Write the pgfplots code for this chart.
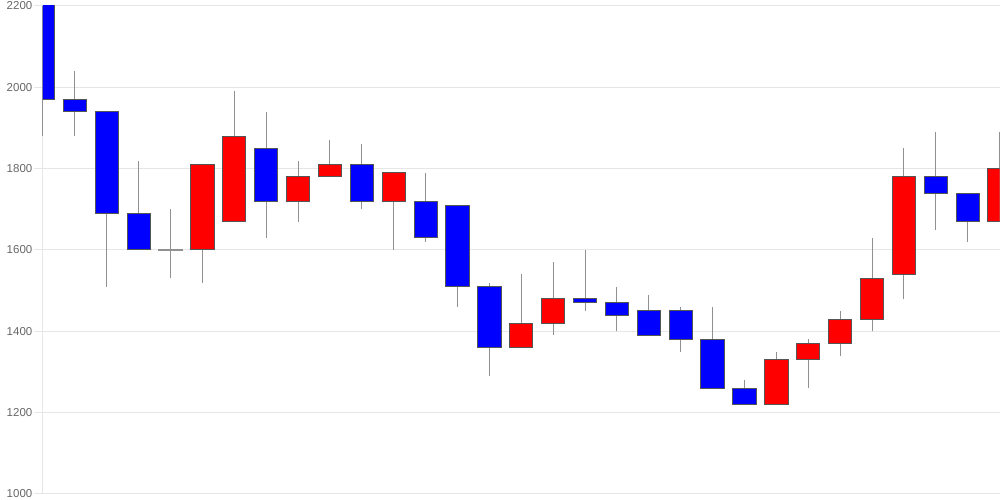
\documentclass[border=0pt]{standalone}
\usepackage{fontspec}
\setmainfont{Liberation Sans}
\usepackage{pgfplots}
\pgfplotsset{compat=1.18}
\usepackage{pgfplotstable}

\definecolor{gridc}{HTML}{E6E6E6}
\definecolor{tickc}{HTML}{666666}
\definecolor{wickc}{HTML}{909090}
\definecolor{edgec}{HTML}{555555}

% wicks: x low high
\pgfplotstableread{
x low high
0 1880 2200
1 1880 2040
2 1510 1940
3 1600 1820
4 1530 1700
5 1520 1810
6 1670 1990
7 1630 1940
8 1670 1820
9 1780 1870
10 1700 1860
11 1600 1790
12 1620 1790
13 1460 1710
14 1290 1520
15 1360 1540
16 1390 1570
17 1450 1600
18 1400 1510
19 1390 1490
20 1350 1460
21 1260 1460
22 1220 1280
23 1220 1350
24 1260 1380
25 1340 1450
26 1400 1630
27 1480 1850
28 1650 1890
29 1620 1740
30 1670 1890
}\wickT

% falling candles: x top bottom
\pgfplotstableread{
x top bottom
0 2280 1970
1 1970 1940
2 1940 1690
3 1690 1600
7 1850 1720
10 1810 1720
12 1720 1630
13 1710 1510
14 1510 1360
17 1480 1470
18 1470 1440
19 1450 1390
20 1450 1380
21 1380 1260
22 1260 1220
28 1780 1740
29 1740 1670
}\blueT

% rising candles: x bottom top
\pgfplotstableread{
x bottom top
5 1600 1810
6 1670 1880
8 1720 1780
9 1780 1810
11 1720 1790
15 1360 1420
16 1420 1480
23 1220 1330
24 1330 1370
25 1370 1430
26 1430 1530
27 1540 1780
30 1670 1800
}\redT

% unchanged candle (open = close): x bottom top
\pgfplotstableread{
x bottom top
4 1599.5 1600.5
}\dojiT

\pgfplotsset{
  basegeom/.style={
    scale only axis, width=956.6pt, height=488pt,
    xmin=0, xmax=30, ymin=1000, ymax=2200,
    enlargelimits=false,
  },
}

\begin{document}
\begin{tikzpicture}
\begin{axis}[
  basegeom, clip=false,
  axis x line=none,
  axis y line=left,
  axis line style={draw=gridc, line width=1pt, -},
  xtick=\empty,
  ytick={1000,1200,1400,1600,1800,2000,2200},
  ymajorgrids,
  grid style={draw=gridc, line width=1pt},
  tick style={draw=gridc, line width=1pt},
  tick align=outside,
  major tick length=9pt,
  /pgf/number format/assume math mode=true,
  /pgf/number format/1000 sep={},
  yticklabel style={font=\fontsize{11.5}{13}\selectfont, text=tickc, inner sep=1.5pt},
]
\addplot[draw=none, mark=none, forget plot,
  error bars/.cd, y dir=plus, y explicit, error mark=none,
  error bar style={draw=wickc, line width=1pt}]
  table[x=x, y=low, y error plus expr=\thisrow{high}-\thisrow{low}]{\wickT};
\end{axis}

\begin{axis}[basegeom, clip=true, hide axis, ybar stacked, bar width=0.73]
\addplot[draw=none, fill=none] table[x=x, y=bottom]{\blueT};
\addplot[fill=blue, draw=edgec, line width=1pt] table[x=x, y expr=\thisrow{top}-\thisrow{bottom}]{\blueT};
\end{axis}

\begin{axis}[basegeom, clip=true, hide axis, ybar stacked, bar width=0.73]
\addplot[draw=none, fill=none] table[x=x, y=bottom]{\redT};
\addplot[fill=red, draw=edgec, line width=1pt] table[x=x, y expr=\thisrow{top}-\thisrow{bottom}]{\redT};
\end{axis}

\begin{axis}[basegeom, clip=true, hide axis, ybar stacked, bar width=0.73]
\addplot[draw=none, fill=none] table[x=x, y=bottom]{\dojiT};
\addplot[fill=wickc, draw=wickc, line width=1pt] table[x=x, y expr=\thisrow{top}-\thisrow{bottom}]{\dojiT};
\end{axis}

\pgfresetboundingbox
\path[use as bounding box] (-43pt,-6pt) rectangle (957pt,494pt);
\end{tikzpicture}
\end{document}
